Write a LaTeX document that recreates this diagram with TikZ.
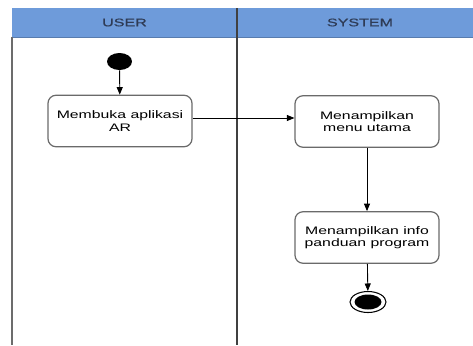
\documentclass[tikz,border=0pt]{standalone}
\usepackage{fontspec}
\setmainfont{Liberation Sans}[FakeStretch=1.45]
\newfontfamily\laneheadfont{Liberation Sans}[FakeStretch=1.45, FakeBold=0.5]
\usetikzlibrary{arrows.meta,shapes.geometric}
\definecolor{laneblue}{HTML}{6E9BDA}
\definecolor{lanetext}{HTML}{2E3B55}
\definecolor{boxline}{HTML}{6A6A6A}
\tikzset{
  activity/.style={draw=boxline, line width=0.7pt, rounded corners=0.16cm,
    minimum width=2.88cm, minimum height=1.03cm, align=center,
    font=\fontsize{6.2}{6.9}\selectfont, inner sep=1pt},
  flow/.style={-{Triangle[length=0.15cm,width=0.12cm]}, line width=0.5pt, black},
  lanehead/.style={font=\laneheadfont\fontsize{6.3}{6.9}\selectfont, text=lanetext},
}
\begin{document}
\begin{tikzpicture}[x=0.02cm, y=-0.02cm]
  \useasboundingbox[fill=white] (0,0) rectangle (473,345);
  % swimlane headers
  \fill[laneblue] (12,8) rectangle (473,37);
  \draw[laneblue!80!black, line width=0.3pt] (12,37) -- (473,37);
  \node[lanehead] (huser) at (124.5,22.5) {USER};
  \node[lanehead] (hsys) at (360,22.5) {SYSTEM};
  % lane borders
  \draw[gray!85!black, line width=1pt] (12,37) -- (12,345);
  \draw[black!75, line width=0.8pt] (237,8) -- (237,345);
  % start node
  \node[ellipse, fill=black, minimum width=0.5cm, minimum height=0.34cm, inner sep=0pt] (start) at (119.5,61.5) {};
  % activities
  \node[activity] (open) at (120,121) {Membuka aplikasi\\AR};
  \node[activity] (menu) at (367,121.5) {Menampilkan\\menu utama};
  \node[activity] (info) at (367,237.5) {Menampilkan info\\panduan program};
  % end node
  \node[ellipse, draw=black, line width=0.6pt, fill=white, minimum width=0.72cm, minimum height=0.42cm, inner sep=0pt] (final) at (368,302) {};
  \node[ellipse, fill=black, minimum width=0.54cm, minimum height=0.3cm, inner sep=0pt] (finalcore) at (final.center) {};
  % transitions
  \draw[flow] (start) -- (open);
  \draw[flow] ([yshift=0.06cm]open.east) -- ([yshift=0.06cm]open.east -| menu.west);
  \draw[flow] (menu) -- (info);
  \draw[flow] (info) -- (final);
\end{tikzpicture}
\end{document}
